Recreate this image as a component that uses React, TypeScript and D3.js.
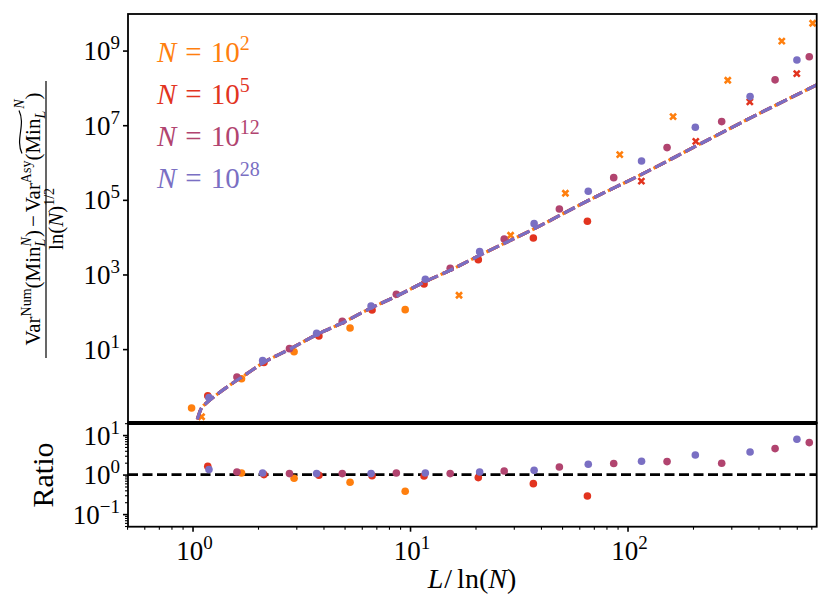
import * as d3 from 'd3';
import { useEffect, useRef } from 'react';

const FONT = '"Liberation Serif", "DejaVu Serif", serif';

// series: N = 10^2, 10^5, 10^12, 10^28
const seriesExp = ['2', '5', '12', '28'];
const seriesColor = ['#ff7f0e', '#e2341f', '#b1446f', '#7a6fc3'];

// N = 10^2
const x2 = [0.99, 1.68, 2.93, 5.3, 9.5];
const y2 = [0.264, 1.6, 8.5, 36.8, 114];
const x2Cross = [1.1, 16.8, 29.0, 51.8, 92.1, 162, 289, 512, 710];
const y2Cross = [0.154, 277, 11250, 150000, 1.63e6, 1.7e7, 1.6e8, 1.79e9, 5.4e9];
const x2Ratio = [1.68, 2.93, 5.3, 9.5];
const r2 = [1.1, 0.81, 0.64, 0.38];

// N = 10^5
const x5 = [1.175, 2.13, 3.81, 6.69, 11.6, 20.6, 36.9, 65.4];
const y5 = [0.56, 4.4, 22.4, 112, 556, 2500, 9520, 26700];
const x5Cross = [115.8, 206, 365, 600];
const y5Cross = [316000, 3.7e6, 4.2e7, 2.4e8];
const r5 = [1.62, 1.0, 0.96, 0.94, 0.92, 0.84, 0.59, 0.287];

// N = 10^12
const x12 = [1.6, 2.79, 4.88, 8.65, 15.3, 27.1, 48.6, 86.4, 152, 271, 477, 685];
const y12 = [1.79, 10.3, 55.6, 294, 1466, 8950, 57000, 393000, 2.51e6, 1.25e7, 1.64e8, 6.8e8];
const r12 = [1.16, 1.06, 1.06, 1.1, 1.06, 1.23, 1.56, 1.9, 2.13, 1.93, 4.55, 6.45];

// N = 10^28
const x28 = [1.19, 2.1, 3.72, 6.62, 11.76, 20.9, 37.2, 66, 116, 205, 366, 601];
const y28 = [0.5, 4.9, 26.5, 143, 743, 4090, 23000, 170000, 1.1e6, 8.8e6, 5.85e7, 5.6e8];
const r28 = [1.34, 1.1, 1.06, 1.06, 1.1, 1.16, 1.28, 1.82, 2.17, 3.13, 3.73, 7.83];

// asymptotic curve (dashed)
const asyX = [1.052, 1.09, 1.16, 1.29, 1.49, 1.78, 2.1, 2.8, 3.7, 4.9, 6.5, 8.7, 11.8, 15.3, 21, 37, 66, 116, 205, 366, 741];
const asyY = [0.131, 0.24, 0.36, 0.6, 1.1, 2.2, 4.2, 10, 24, 51, 120, 265, 650, 1300, 3300, 16500, 96000, 480000, 2.7e6, 1.55e7, 1.2e8];

// ticks
const topYTicks = [1e1, 1e3, 1e5, 1e7, 1e9];
const topYLabels = ['1', '3', '5', '7', '9'];
const ratioTicks = [0.1, 1, 10];
const ratioLabels = ['\u22121', '0', '1'];
const xTicks = [1, 10, 100];
const xLabels = ['0', '1', '2'];

type Part = { t: string; s?: number; up?: number; it?: boolean; dx?: number; id?: string };

function mathText(
  g: d3.Selection<any, unknown, null, undefined>,
  x: number,
  y: number,
  parts: Part[],
  size: number,
  anchor = 'start',
  color = '#000'
) {
  const text = g
    .append('text')
    .attr('x', x)
    .attr('y', y)
    .attr('font-family', FONT)
    .attr('font-size', size)
    .attr('text-anchor', anchor)
    .attr('fill', color);
  let cur = 0;
  parts.forEach((p) => {
    const up = p.up ?? 0;
    const ts = text.append('tspan').text(p.t).attr('dy', cur - up);
    if (p.s) ts.attr('font-size', p.s);
    if (p.it) ts.attr('font-style', 'italic');
    if (p.dx) ts.attr('dx', p.dx);
    if (p.id) ts.attr('id', p.id);
    cur = up;
  });
  return text;
}

export default function App() {
  const ref = useRef<SVGSVGElement>(null);

  useEffect(() => {
    if (!ref.current) return;
    const svg = d3.select(ref.current);
    svg.selectAll('*').remove();

    const L = 128;
    const R = 816.7;
    const T = 14;
    const MID = 423;
    const B = 526.7;

    const x = d3.scaleLog().domain([0.505, 741]).range([L, R]);
    const yTop = d3.scaleLog().domain([10 ** -0.98, 10 ** 9.98]).range([MID, T]);
    const yRat = d3.scaleLog().domain([0.048, 20.2]).range([B, MID]);

    const defs = svg.append('defs');
    defs.append('clipPath').attr('id', 'clipTop').append('rect')
      .attr('x', L).attr('y', T).attr('width', R - L).attr('height', MID - T);
    defs.append('clipPath').attr('id', 'clipRat').append('rect')
      .attr('x', L).attr('y', MID).attr('width', R - L).attr('height', B - MID);

    // ---------- top panel ----------
    const top = svg.append('g').attr('clip-path', 'url(#clipTop)');
    const line = d3
      .line<number>()
      .x((_, i) => x(asyX[i]))
      .y((d) => yTop(d))
      .curve(d3.curveMonotoneX);

    const dots = [
      { xs: x2, ys: y2, cx: x2Cross, cy: y2Cross },
      { xs: x5, ys: y5, cx: x5Cross, cy: y5Cross },
      { xs: x12, ys: y12, cx: [] as number[], cy: [] as number[] },
      { xs: x28, ys: y28, cx: [] as number[], cy: [] as number[] },
    ];
    const dashOffsets = [2, 0, 0, 0];

    dots.forEach((s, k) => {
      const col = seriesColor[k];
      top.append('g').selectAll('circle').data(s.xs).join('circle')
        .attr('cx', (d) => x(d))
        .attr('cy', (_, i) => yTop(s.ys[i]))
        .attr('r', 3.8)
        .attr('fill', col);
      top.append('g').selectAll('path').data(s.cx).join('path')
        .attr('transform', (d, i) => `translate(${x(d)},${yTop(s.cy[i])})`)
        .attr('d', 'M-3,-3L3,3M-3,3L3,-3')
        .attr('stroke', col)
        .attr('stroke-width', 2.6)
        .attr('fill', 'none');
      top.append('path')
        .datum(asyY)
        .attr('d', line)
        .attr('fill', 'none')
        .attr('stroke', col)
        .attr('stroke-width', 3.2)
        .attr('stroke-dasharray', '12 5')
        .attr('stroke-dashoffset', dashOffsets[k]);
    });

    // legend
    seriesExp.forEach((e, k) => {
      mathText(svg, 157, 61.7 + k * 42.2, [
        { t: 'N', it: true },
        { t: '=', dx: 9 },
        { t: '10', dx: 9 },
        { t: e, s: 20, up: 12 },
      ], 29, 'start', seriesColor[k]);
    });

    // top y axis
    svg.append('g')
      .attr('transform', `translate(${L},0)`)
      .call(d3.axisLeft(yTop).tickValues(topYTicks).tickSize(5).tickFormat(() => ''))
      .call((g) => g.select('.domain').remove())
      .call((g) => g.selectAll('line').attr('stroke-width', 1.6));
    topYTicks.forEach((v, i) => {
      mathText(svg, 120, yTop(v) + 9.5, [{ t: '10' }, { t: topYLabels[i], s: 19, up: 11 }], 27, 'end');
    });

    // ---------- ratio panel ----------
    const rat = svg.append('g').attr('clip-path', 'url(#clipRat)');
    rat.append('line')
      .attr('x1', L).attr('x2', R)
      .attr('y1', yRat(1)).attr('y2', yRat(1))
      .attr('stroke', '#000')
      .attr('stroke-width', 2.6)
      .attr('stroke-dasharray', '10 4.5');

    const ratios = [
      { xs: x2Ratio, rs: r2 },
      { xs: x5, rs: r5 },
      { xs: x12, rs: r12 },
      { xs: x28, rs: r28 },
    ];
    ratios.forEach((s, k) => {
      rat.append('g').selectAll('circle').data(s.xs).join('circle')
        .attr('cx', (d) => x(d))
        .attr('cy', (_, i) => yRat(s.rs[i]))
        .attr('r', 3.8)
        .attr('fill', seriesColor[k]);
    });

    // ratio y axis
    const ratMinor: number[] = [];
    [0.01, 0.1, 1, 10].forEach((dec) => {
      for (let m = 2; m <= 9; m++) {
        const v = dec * m;
        if (v > 0.048 && v < 20.2) ratMinor.push(v);
      }
    });
    svg.append('g')
      .attr('transform', `translate(${L},0)`)
      .call(d3.axisLeft(yRat).tickValues(ratMinor).tickSize(3).tickFormat(() => ''))
      .call((g) => g.select('.domain').remove())
      .call((g) => g.selectAll('line').attr('stroke-width', 1.1));
    svg.append('g')
      .attr('transform', `translate(${L},0)`)
      .call(d3.axisLeft(yRat).tickValues(ratioTicks).tickSize(5).tickFormat(() => ''))
      .call((g) => g.select('.domain').remove())
      .call((g) => g.selectAll('line').attr('stroke-width', 1.6));
    ratioTicks.forEach((v, i) => {
      mathText(svg, 120, yRat(v) + 9.5, [{ t: '10' }, { t: ratioLabels[i], s: 19, up: 11 }], 27, 'end');
    });

    // x axis
    const xMinor: number[] = [];
    [0.1, 1, 10, 100].forEach((dec) => {
      for (let m = 2; m <= 9; m++) {
        const v = dec * m;
        if (v >= 0.5 && v < 741) xMinor.push(v);
      }
    });
    svg.append('g')
      .attr('transform', `translate(0,${B})`)
      .call(d3.axisBottom(x).tickValues(xMinor).tickSize(3).tickFormat(() => ''))
      .call((g) => g.select('.domain').remove())
      .call((g) => g.selectAll('line').attr('stroke-width', 1.1));
    svg.append('g')
      .attr('transform', `translate(0,${B})`)
      .call(d3.axisBottom(x).tickValues(xTicks).tickSize(5).tickFormat(() => ''))
      .call((g) => g.select('.domain').remove())
      .call((g) => g.selectAll('line').attr('stroke-width', 1.6));
    xTicks.forEach((v, i) => {
      mathText(svg, x(v) + 2, 560, [{ t: '10' }, { t: xLabels[i], s: 19, up: 11 }], 27, 'middle');
    });

    // spines
    const sp = svg.append('g').attr('fill', 'none').attr('stroke', '#000').attr('stroke-width', 1.8);
    sp.append('rect').attr('x', L).attr('y', T).attr('width', R - L).attr('height', MID - T);
    sp.append('rect').attr('x', L).attr('y', MID).attr('width', R - L).attr('height', B - MID);
    svg.append('line')
      .attr('x1', L).attr('x2', R)
      .attr('y1', MID).attr('y2', MID)
      .attr('stroke', '#000')
      .attr('stroke-width', 4);

    // x label
    mathText(svg, 472, 588, [
      { t: 'L', it: true },
      { t: '/', dx: 1 },
      { t: 'ln(', dx: 5 },
      { t: 'N', it: true },
      { t: ')' },
    ], 28, 'middle');

    // ratio label
    svg.append('text')
      .attr('transform', 'translate(53,475) rotate(-90)')
      .attr('text-anchor', 'middle')
      .attr('font-family', FONT)
      .attr('font-size', 30)
      .text('Ratio');

    // top y label (fraction)
    const fl = svg.append('g').attr('transform', 'translate(46,219) rotate(-90)');
    mathText(fl, 0, -6, [
      { t: 'Var' },
      { t: 'Num', s: 14, up: 9 },
      { t: '(Min', up: 0 },
      { t: 'L', s: 14, up: -5, it: true, id: 'sub1' },
      { t: 'N', s: 14, up: 9, it: true, dx: -7.8 },
      { t: ')', up: 0 },
      { t: '\u2212', dx: 3 },
      { t: 'Var', dx: 3 },
      { t: 'Asy', s: 14, up: 9 },
      { t: '(', up: 0 },
      { t: 'Min', id: 'tmin' },
      { t: 'L', s: 14, up: -5, it: true, id: 'tsub' },
      { t: 'N', s: 14, up: 16, it: true, dx: 2 },
      { t: ')', up: 0 },
    ], 21, 'middle');
    fl.append('line')
      .attr('x1', -139).attr('x2', 138)
      .attr('y1', 0).attr('y2', 0)
      .attr('stroke', '#000')
      .attr('stroke-width', 1.2);
    mathText(fl, 0, 17, [
      { t: 'ln(' },
      { t: 'N', it: true },
      { t: ')' },
      { t: '1/2', s: 14, up: 9 },
    ], 21, 'middle');

    // wide tilde over Min_L
    const minEl = fl.select<SVGTSpanElement>('#tmin').node();
    const subEl = fl.select<SVGTSpanElement>('#tsub').node();
    if (minEl && subEl) {
      const b1 = minEl.getBBox();
      const b2 = subEl.getBBox();
      const x0 = b1.x;
      const x1 = b2.x + b2.width;
      const w = x1 - x0;
      const y0 = b1.y + 1;
      fl.append('path')
        .attr('d', `M${x0},${y0}C${x0 + w / 3},${y0 - 7} ${x0 + (2 * w) / 3},${y0 + 4} ${x1},${y0 - 3}`)
        .attr('fill', 'none')
        .attr('stroke', '#000')
        .attr('stroke-width', 1.2);
    }
  }, []);

  return (
    <svg
      ref={ref}
      width={831}
      height={616}
      style={{ position: 'absolute', left: 0, top: 0, background: '#fff' }}
    />
  );
}
